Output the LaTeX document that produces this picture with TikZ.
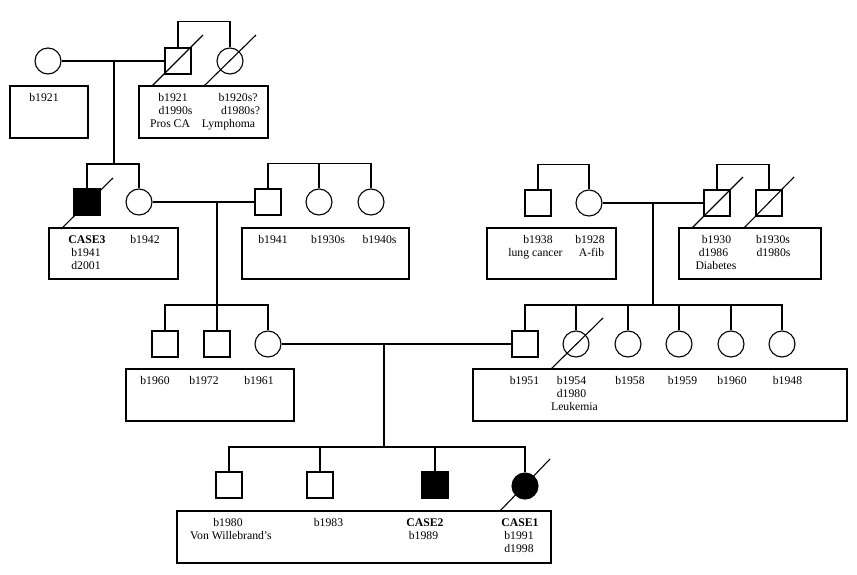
\documentclass[tikz,border=0pt]{standalone}
\usepackage{fontspec}
\setmainfont{Liberation Serif}
\begin{document}
\begin{tikzpicture}[x=1pt,y=-1pt,line width=1.1pt,
  male/.style={draw,rectangle,minimum size=26pt,inner sep=0pt},
  female/.style={draw,circle,minimum size=26pt,inner sep=0pt},
  aff/.style={fill=black},
  lbl/.style={anchor=base,inner sep=0pt,font=\fontsize{11.7}{13}\selectfont},
  bl/.style={anchor=base,inner sep=0pt,font=\fontsize{11.7}{13}\selectfont\bfseries}]
\useasboundingbox (0,0) rectangle (857,575);

% ---------- Generation I ----------
\node[female] (g1f) at (48,61) {};
\node[male] (g1m) at (178,61) {};
\node[female] (g1f2) at (230,61) {};
\draw (g1f) -- (g1m);
\coordinate (d1a) at (114,61);
\coordinate (d1b) at (114,164);
\draw (d1a) -- (d1b);
\draw (g1m.north) -- ++(0,-26) -| (g1f2.north);
\draw (g1m.center) ++(-26,25) -- ++(51,-51);
\draw (g1f2.center) ++(-26,25) -- ++(52,-51);
\draw (10,86) rectangle (88,138);
\draw (139,86) rectangle (268,138);
\node[lbl] (a1) at (44,102) {b1921};
\node[lbl] (a2) at (173,102) {b1921};
\node[lbl] (a3) at (175.5,115) {d1990s};
\node[lbl] (a4) at (170,128) {Pros CA};
\node[lbl] (a5) at (238,102) {b1920s?};
\node[lbl] (a6) at (240.5,115) {d1980s?};
\node[lbl] (a7) at (228.5,128) {Lymphoma};

% ---------- Generation II left ----------
\node[male,aff] (c3) at (87,202) {};
\node[female] (w) at (139,202) {};
\node[male] (h) at (268,202) {};
\node[female] (hs1) at (319,202) {};
\node[female] (hs2) at (371,202) {};
\draw (c3.north) |- (d1b) -| (w.north);
\draw (c3.center) ++(-26,27) -- ++(52,-51);
\draw (w) -- (h);
\draw (h.north) -- ++(0,-25) -| (hs2.north);
\draw (hs1.north) -- ++(0,-25);
\coordinate (d2a) at (217,202);
\coordinate (d2b) at (217,305);
\draw (49,228) rectangle (178,279);
\draw (242,228) rectangle (409,279);
\node[bl] (b1) at (87,243) {CASE3};
\node[lbl] (b2) at (86,256) {b1941};
\node[lbl] (b3) at (86,269) {d2001};
\node[lbl] (b4) at (145,243) {b1942};
\node[lbl] (b5) at (273,243) {b1941};
\node[lbl] (b6) at (328,243) {b1930s};
\node[lbl] (b7) at (379.5,243) {b1940s};

% ---------- Generation II right ----------
\node[male] (r1) at (538,203) {};
\node[female] (r2) at (589,203) {};
\node[male] (r3) at (717,203) {};
\node[male] (r4) at (769,203) {};
\draw (r1.north) -- ++(0,-25) -| (r2.north);
\draw (r2) -- (r3);
\draw (r3.north) -- ++(0,-25) -| (r4.north);
\draw (r3.center) ++(-25,25) -- ++(51,-51);
\draw (r4.center) ++(-25,25) -- ++(50,-51);
\coordinate (d3a) at (653,203);
\coordinate (d3b) at (653,305);
\draw (d3a) -- (d3b);
\draw (487,228) rectangle (616,279);
\draw (679,228) rectangle (821,279);
\node[lbl] (c1) at (538,243) {b1938};
\node[lbl] (c2) at (535.5,256) {lung cancer};
\node[lbl] (c4) at (590,243) {b1928};
\node[lbl] (c5) at (591.5,256) {A-fib};
\node[lbl] (c6) at (716.5,243) {b1930};
\node[lbl] (c7) at (713.5,256) {d1986};
\node[lbl] (c8) at (716,269) {Diabetes};
\node[lbl] (c9) at (773,243) {b1930s};
\node[lbl] (c10) at (773.5,256) {d1980s};

% ---------- Generation III ----------
\node[male] (s1) at (165,344) {};
\node[male] (s2) at (217,344) {};
\node[female] (s3) at (268,344) {};
\draw (d2a) -- (s2.north);
\draw (s1.north) |- (d2b) -| (s3.north);
\node[male] (t1) at (525,344) {};
\node[female] (t2) at (576,344) {};
\node[female] (t3) at (628,344) {};
\node[female] (t4) at (679,344) {};
\node[female] (t5) at (731,344) {};
\node[female] (t6) at (782,344) {};
\draw (t1.north) |- (d3b) -| (t6.north);
\foreach \n in {t2,t3,t4,t5} \draw (\n.north) -- ++(0,-26);
\draw (t2.center) ++(-25,25) -- ++(52,-51);
\draw (s3) -- (t1);
\coordinate (d4a) at (384,344);
\coordinate (d4b) at (384,447);
\draw (d4a) -- (d4b);
\draw (126,369) rectangle (294,421);
\draw (473,369) rectangle (847,421);
\node[lbl] (e1) at (155,384) {b1960};
\node[lbl] (e2) at (204,384) {b1972};
\node[lbl] (e3) at (259,384) {b1961};
\node[lbl] (e4) at (524.5,384) {b1951};
\node[lbl] (e5) at (571.5,384) {b1954};
\node[lbl] (e6) at (571.5,397) {d1980};
\node[lbl] (e7) at (574.5,410) {Leukemia};
\node[lbl] (e8) at (630,384) {b1958};
\node[lbl] (e9) at (682.5,384) {b1959};
\node[lbl] (e10) at (732,384) {b1960};
\node[lbl] (e11) at (787.5,384) {b1948};

% ---------- Generation IV ----------
\node[male] (u1) at (229,485) {};
\node[male] (u2) at (320,485) {};
\node[male,aff] (u3) at (435,485) {};
\node[female,aff] (u4) at (525,486) {};
\draw (u1.north) |- (d4b) -| (u4.north);
\draw (u2.north) -- ++(0,-25);
\draw (u3.north) -- ++(0,-25);
\draw (u4.center) ++(-25,25) -- ++(50,-52);
\draw (177,511) rectangle (551,563);
\node[lbl] (f1) at (228,526) {b1980};
\node[lbl] (f2) at (231,539) {Von Willebrand’s};
\node[lbl] (f3) at (328.5,526) {b1983};
\node[bl] (f4) at (425,526) {CASE2};
\node[lbl] (f5) at (423.5,539) {b1989};
\node[bl] (f6) at (520,526) {CASE1};
\node[lbl] (f7) at (519,539) {b1991};
\node[lbl] (f8) at (519,552) {d1998};
\end{tikzpicture}
\end{document}
